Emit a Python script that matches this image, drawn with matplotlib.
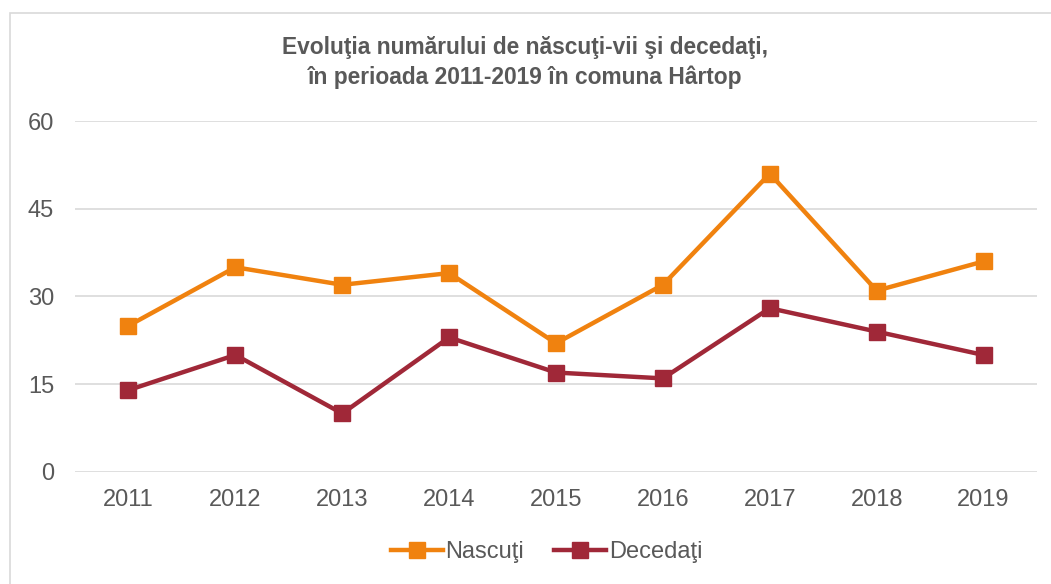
import matplotlib.pyplot as plt
from matplotlib.patches import Rectangle

years = ['2011', '2012', '2013', '2014', '2015', '2016', '2017', '2018', '2019']
nascuti = [25, 35, 32, 34, 22, 32, 51, 31, 36]
decedati = [14, 20, 10, 23, 17, 16, 28, 24, 20]

plt.rcParams['font.family'] = ['Liberation Sans', 'DejaVu Sans']
grey = '#595959'

fig = plt.figure(figsize=(10.51, 5.84), dpi=100)
ax = fig.add_axes([0.0714, 0.1918, 0.9153, 0.601])

x = range(len(years))
ax.plot(x, nascuti, color='#F0820F', lw=3.2, marker='s', ms=11.5, label='Nascuţi')
ax.plot(x, decedati, color='#A02838', lw=3.2, marker='s', ms=11.5, label='Decedaţi')

ax.set_xlim(-0.5, len(years) - 0.5)
ax.set_ylim(0, 60)
ax.set_yticks([0, 15, 30, 45, 60])
ax.set_xticks(list(x))
ax.set_xticklabels(years)
ax.grid(axis='y', color='#D9D9D9', lw=1.2)
ax.set_axisbelow(True)
for s in ax.spines.values():
    s.set_visible(False)
ax.tick_params(length=0, labelsize=17, labelcolor=grey, pad=12)
ax.tick_params(axis='y', pad=15)

fig.text(0.5, 0.893, 'Evoluţia numărului de născuţi-vii şi decedaţi,\nîn perioada 2011-2019 în comuna Hârtop',
         ha='center', va='center', fontsize=16.4, fontweight='bold', color=grey, linespacing=1.32)

fig.legend(loc='center', bbox_to_anchor=(0.52, 0.054), ncol=2, frameon=False,
           fontsize=17, labelcolor=grey, handlelength=2.2, handletextpad=0.1,
           columnspacing=1.3)

fig.patches.append(Rectangle((10 / 1051, -0.1), 1.2, 1 - 13 / 584 + 0.1,
                             transform=fig.transFigure, fill=False,
                             edgecolor='#D9D9D9', lw=1.2))

fig.savefig('out.png', dpi=100)
